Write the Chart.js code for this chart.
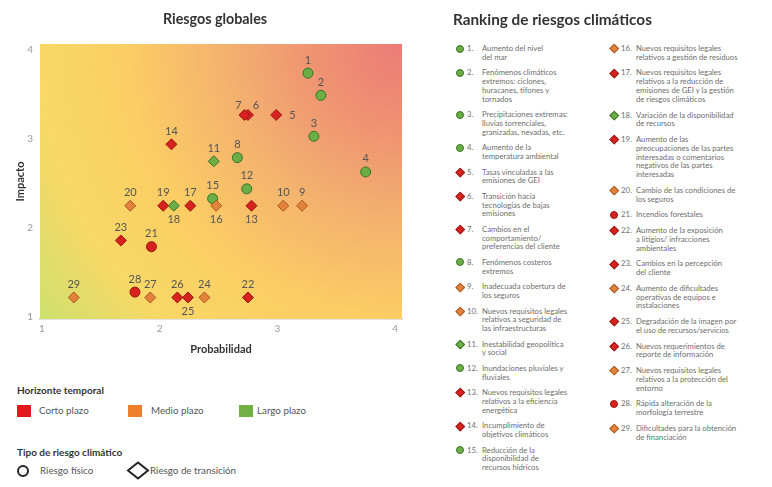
<!DOCTYPE html>
<html lang="es">
<head>
<meta charset="utf-8">
<title>Riesgos globales</title>
<script src="https://cdn.jsdelivr.net/npm/chart.js@4/dist/chart.umd.min.js"></script>
<style>
    html, body { margin: 0; padding: 0; background: #fff; }
    body { width: 772px; height: 487px; position: relative; overflow: hidden; font-family: Lato, "Open Sans", sans-serif; }
    #riskChart { position: absolute; left: 0; top: 0; }
    .title { position: absolute; top: 10px; font-weight: bold; color: #333; white-space: nowrap; }
    #chartTitle { left: 215px; transform: translateX(-50%); font-size: 14.3px; }
    #rankTitle { left: 453px; font-size: 15.3px; }

    .legend { position: absolute; left: 0; width: 400px; color: #555; font-size: 9.8px; }
    .legend h4 { position: absolute; left: 17px; top: 0; margin: 0; font-size: 10px; font-weight: bold; color: #333; white-space: nowrap; }
    .legend .sw { position: absolute; }
    .legend .lbl { position: absolute; white-space: nowrap; }
    .sq { width: 14px; height: 12px; }

    .rank { position: absolute; top: 44px; color: #6e6e6e; font-size: 7.7px; line-height: 8.8px; }
    .rank .item { display: grid; grid-template-columns: 14px 15px 160px; }
    #rank1 { left: 453px; }
    #rank1 .item { margin-bottom: 6.7px; }
    #rank2 { left: 607px; }
    #rank2 .item { margin-bottom: 6.9px; }
    .rank .mk { display: flex; justify-content: center; }
    .rank .dot { width: 8px; height: 8px; margin-top: 0.5px; border-radius: 50%; border: 1px solid; box-sizing: border-box; }
    .rank .dia { width: 6.5px; height: 6.5px; margin-top: 1.3px; transform: rotate(45deg); border: 1px solid; box-sizing: border-box; }
    .rank .txt { white-space: pre-line; }
</style>
</head>
<body>
<canvas id="riskChart" width="430" height="362"></canvas>
<div class="title" id="chartTitle">Riesgos globales</div>
<div class="title" id="rankTitle">Ranking de riesgos climáticos</div>

<div class="legend" style="top:384px">
    <h4>Horizonte temporal</h4>
    <div class="sw sq" style="left:17px;top:21px;background:#e3191e"></div><span class="lbl" style="left:39px;top:20px">Corto plazo</span>
    <div class="sw sq" style="left:128px;top:21px;background:#ee7f2d"></div><span class="lbl" style="left:151px;top:20px">Medio plazo</span>
    <div class="sw sq" style="left:239px;top:21px;background:#72b043"></div><span class="lbl" style="left:257px;top:20px">Largo plazo</span>
</div>
<div class="legend" style="top:446px">
    <h4>Tipo de riesgo climático</h4>
    <svg class="sw" style="left:16px;top:18px" width="14" height="14"><circle cx="7" cy="7" r="5" fill="none" stroke="#222" stroke-width="2"/></svg>
    <span class="lbl" style="left:40px;top:18px">Riesgo físico</span>
    <svg class="sw" style="left:126px;top:15px" width="24" height="19"><polygon points="12,1.5 22,9.5 12,17.5 2,9.5" fill="none" stroke="#222" stroke-width="2"/></svg>
    <span class="lbl" style="left:150px;top:18px">Riesgo de transición</span>
</div>

<div class="rank" id="rank1"></div>
<div class="rank" id="rank2"></div>

<script>
// riesgos 1..29: probabilidad (x) e impacto (y)
var ids = [1, 2, 3, 4, 5, 6, 7, 8, 9, 10, 11, 12, 13, 14, 15, 16, 17, 18, 19, 20, 21, 22, 23, 24, 25, 26, 27, 28, 29];
var probabilidad = [3.26, 3.37, 3.31, 3.75, 2.99, 2.75, 2.72, 2.66, 3.21, 3.05, 2.46, 2.74, 2.78, 2.10, 2.45,
                    2.48, 2.26, 2.12, 2.03, 1.75, 1.93, 2.75, 1.67, 2.38, 2.24, 2.15, 1.92, 1.79, 1.27];
var impacto = [3.74, 3.49, 3.03, 2.63, 3.27, 3.27, 3.27, 2.79, 2.25, 2.25, 2.75, 2.44, 2.25, 2.94, 2.33,
               2.25, 2.25, 2.25, 2.25, 2.25, 1.79, 1.22, 1.86, 1.22, 1.22, 1.22, 1.22, 1.28, 1.22];
// horizonte temporal: C = corto, M = medio, L = largo
var horizonte = ['L', 'L', 'L', 'L', 'C', 'C', 'C', 'L', 'M', 'M', 'L', 'L', 'C', 'C', 'L',
                 'M', 'C', 'L', 'C', 'M', 'C', 'C', 'C', 'M', 'C', 'C', 'M', 'C', 'M'];
// tipo de riesgo: F = físico, T = transición
var tipo = ['F', 'F', 'F', 'F', 'T', 'T', 'T', 'F', 'T', 'T', 'T', 'F', 'T', 'T', 'F',
            'T', 'T', 'T', 'T', 'T', 'F', 'T', 'T', 'T', 'T', 'T', 'T', 'F', 'T'];
var riesgos = [
    'Aumento del nivel\ndel mar',
    'Fenómenos climáticos\nextremos: ciclones,\nhuracanes, tifones y\ntornados',
    'Precipitaciones extremas:\nlluvias torrenciales,\ngranizadas, nevadas, etc.',
    'Aumento de la\ntemperatura ambiental',
    'Tasas vinculadas a las\nemisiones de GEI',
    'Transición hacia\ntecnologías de bajas\nemisiones',
    'Cambios en el\ncomportamiento/\npreferencias del cliente',
    'Fenómenos costeros\nextremos',
    'Inadecuada cobertura de\nlos seguros',
    'Nuevos requisitos legales\nrelativos a seguridad de\nlas infraestructuras',
    'Inestabilidad geopolítica\ny social',
    'Inundaciones pluviales y\nfluviales',
    'Nuevos requisitos legales\nrelativos a la eficiencia\nenergética',
    'Incumplimiento de\nobjetivos climáticos',
    'Reducción de la\ndisponibilidad de\nrecursos hídricos',
    'Nuevos requisitos legales\nrelativos a gestión de residuos',
    'Nuevos requisitos legales\nrelativos a la reducción de\nemisiones de GEI y la gestión\nde riesgos climáticos',
    'Variación de la disponibilidad\nde recursos',
    'Aumento de las\npreocupaciones de las partes\ninteresadas o comentarios\nnegativos de las partes\ninteresadas',
    'Cambio de las condiciones de\nlos seguros',
    'Incendios forestales',
    'Aumento de la exposición\na litigios/ infracciones\nambientales',
    'Cambios en la percepción\ndel cliente',
    'Aumento de dificultades\noperativas de equipos e\ninstalaciones',
    'Degradación de la imagen por\nel uso de recursos/servicios',
    'Nuevos requerimientos de\nreporte de información',
    'Nuevos requisitos legales\nrelativos a la protección del\nentorno',
    'Rápida alteración de la\nmorfología terrestre',
    'Dificultades para la obtención\nde financiación'
];
var xTicks = [1, 2, 3, 4];
var yTicks = [1, 2, 3, 4];

var fillColors = { C: '#d6231f', M: '#e2823b', L: '#6aae45' };
var lineColors = { C: '#9a1814', M: '#a85a20', L: '#3a7326' };

// posicion del numero respecto al punto (por defecto encima)
var labelOffsets = { 5: [13, 0, 'left'], 6: [8, -10, 'center'], 7: [-6, -10, 'center'],
                     13: [0, 14, 'center'], 16: [0, 14, 'center'], 18: [0, 14, 'center'], 25: [0, 14, 'center'] };

function buildPoints() {
    var pts = [];
    for (var i = 0; i < ids.length; i++) {
        pts.push({ x: probabilidad[i], y: impacto[i] });
    }
    return pts;
}

// fondo degradado verde -> amarillo -> rojo desde la esquina superior derecha
var gradientBg = {
    id: 'gradientBg',
    beforeDatasetsDraw: function(chart) {
        var a = chart.chartArea;
        var ctx = chart.ctx;
        var r = Math.sqrt(Math.pow(a.right - a.left, 2) + Math.pow(a.bottom - a.top, 2));
        var g = ctx.createRadialGradient(a.right, a.top, 0, a.right, a.top, r);
        g.addColorStop(0, '#ec7b76');
        g.addColorStop(0.2, '#ef9472');
        g.addColorStop(0.4, '#f4b36e');
        g.addColorStop(0.6, '#fbcd64');
        g.addColorStop(0.8, '#f8d867');
        g.addColorStop(1, '#cde16d');
        ctx.save();
        ctx.fillStyle = g;
        ctx.fillRect(a.left, a.top, a.right - a.left, a.bottom - a.top);
        ctx.restore();
    }
};

// numeros junto a cada punto
var pointNumbers = {
    id: 'pointNumbers',
    afterDatasetsDraw: function(chart) {
        var ctx = chart.ctx;
        var meta = chart.getDatasetMeta(0);
        ctx.save();
        ctx.font = '11px Lato, sans-serif';
        ctx.fillStyle = '#555';
        ctx.textBaseline = 'middle';
        meta.data.forEach(function(el, i) {
            var off = labelOffsets[ids[i]] || [0, -13, 'center'];
            ctx.textAlign = off[2];
            ctx.fillText(String(ids[i]), el.x + off[0], el.y + off[1]);
        });
        ctx.restore();
    }
};

function onlyTicks(list) {
    return function(scale) {
        scale.ticks = list.map(function(v) { return { value: v }; });
    };
}

function drawChart() {
    var ctx = document.getElementById('riskChart').getContext('2d');
    new Chart(ctx, {
        type: 'scatter',
        data: {
            datasets: [{
                data: buildPoints(),
                pointStyle: tipo.map(function(t) { return t === 'F' ? 'circle' : 'rectRot'; }),
                pointRadius: tipo.map(function(t) { return t === 'F' ? 5 : 5.5; }),
                backgroundColor: horizonte.map(function(h) { return fillColors[h]; }),
                borderColor: horizonte.map(function(h) { return lineColors[h]; }),
                borderWidth: 1
            }]
        },
        options: {
            responsive: false,
            animation: false,
            layout: { padding: { left: 8, right: 28, top: 44, bottom: 0 } },
            plugins: {
                legend: { display: false },
                tooltip: { enabled: false }
            },
            scales: {
                x: {
                    type: 'linear',
                    min: 0.983,
                    max: 4.059,
                    afterBuildTicks: onlyTicks(xTicks),
                    afterFit: function(scale) { scale.height = 43; },
                    grid: { display: false, drawTicks: false },
                    border: { display: true, color: '#c8c8c8', width: 1.5 },
                    ticks: { color: '#999', font: { family: 'Lato', size: 10 }, padding: 4 },
                    title: { display: true, text: 'Probabilidad', color: '#333',
                             font: { family: 'Lato', size: 11, weight: 'bold' }, padding: { top: 0, bottom: 6 } }
                },
                y: {
                    type: 'linear',
                    min: 0.978,
                    max: 4.067,
                    afterBuildTicks: onlyTicks(yTicks),
                    afterFit: function(scale) { scale.width = 32; },
                    grid: { display: false, drawTicks: false },
                    border: { display: false },
                    ticks: { color: '#999', font: { family: 'Lato', size: 10 }, padding: 7 },
                    title: { display: true, text: 'Impacto', color: '#333',
                             font: { family: 'Lato', size: 11, weight: 'bold' }, padding: { top: 6, bottom: 0 } }
                }
            }
        },
        plugins: [gradientBg, pointNumbers]
    });
}

// lista del ranking en dos columnas
function fillRanking() {
    var cols = [document.getElementById('rank1'), document.getElementById('rank2')];
    for (var i = 0; i < ids.length; i++) {
        var item = document.createElement('div');
        item.className = 'item';
        var mk = document.createElement('span');
        mk.className = 'mk';
        var shape = document.createElement('span');
        shape.className = tipo[i] === 'F' ? 'dot' : 'dia';
        shape.style.background = fillColors[horizonte[i]];
        shape.style.borderColor = lineColors[horizonte[i]];
        mk.appendChild(shape);
        var num = document.createElement('span');
        num.textContent = ids[i] + '.';
        var txt = document.createElement('span');
        txt.className = 'txt';
        txt.textContent = riesgos[i];
        item.appendChild(mk);
        item.appendChild(num);
        item.appendChild(txt);
        cols[ids[i] <= 15 ? 0 : 1].appendChild(item);
    }
}

fillRanking();
drawChart();
</script>
</body>
</html>
